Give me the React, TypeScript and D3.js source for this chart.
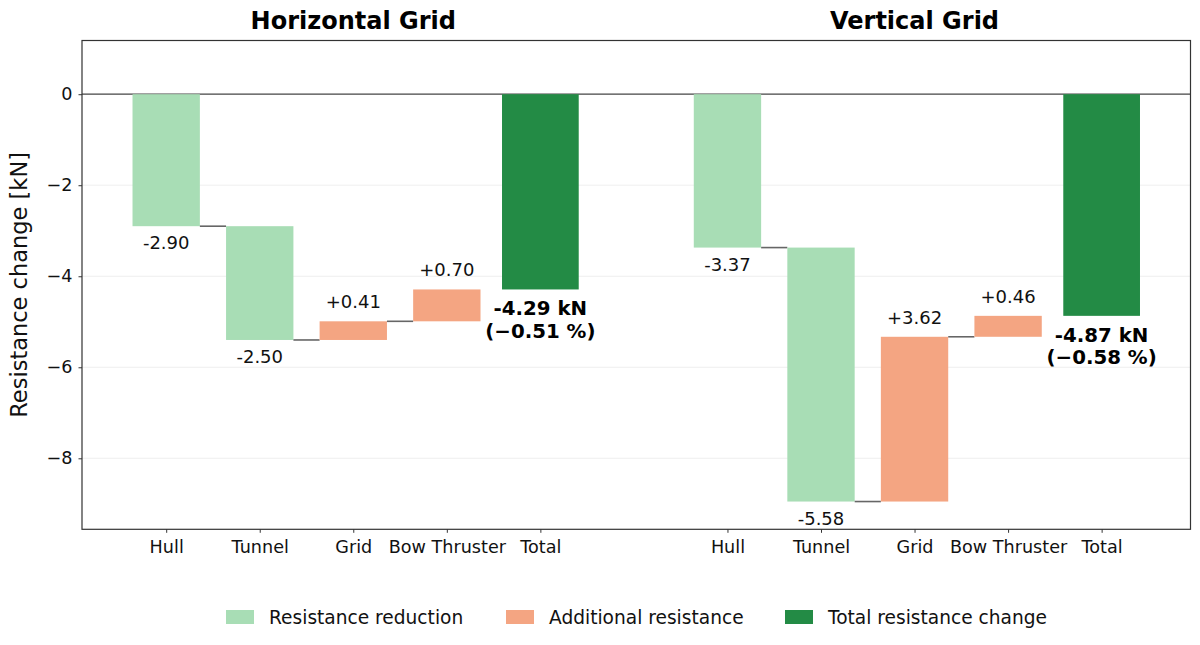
import * as d3 from "d3";
import { useEffect, useRef } from "react";

const categories = ["Hull", "Tunnel", "Grid", "Bow Thruster", "Total"];
const panelTitles = ["Horizontal Grid", "Vertical Grid"];
const horizontalDeltas = [-2.9, -2.5, 0.41, 0.7];
const verticalDeltas = [-3.37, -5.58, 3.62, 0.46];
const totalValues = [-4.29, -4.87];
const totalPercents = [-0.51, -0.58];
const yTicks = [0, -2, -4, -6, -8];
const legendItems = [
  { label: "Resistance reduction", color: "#a8ddb5" },
  { label: "Additional resistance", color: "#f4a582" },
  { label: "Total resistance change", color: "#238b45" },
];

const FONT = "'DejaVu Sans', sans-serif";

export default function App() {
  const svgRef = useRef<SVGSVGElement>(null);
  const width = 1200;
  const height = 645;

  useEffect(() => {
    if (!svgRef.current) return;
    const svg = d3.select(svgRef.current);
    svg.selectAll("*").remove();

    const margin = { top: 40.5, right: 9.5, bottom: 115.7, left: 82 };
    const innerWidth = width - margin.left - margin.right;
    const innerHeight = height - margin.top - margin.bottom;

    const g = svg
      .append("g")
      .attr("transform", `translate(${margin.left},${margin.top})`);

    const x = d3.scaleLinear().domain([-0.9, 10.95]).range([0, innerWidth]);
    const y = d3.scaleLinear().domain([-9.56, 1.18]).range([innerHeight, 0]);
    const step = x(1) - x(0);
    const barW = 0.72 * step;
    const totalW = 0.82 * step;

    // grid lines
    g.append("g")
      .selectAll("line")
      .data(yTicks.filter((t) => t !== 0))
      .enter()
      .append("line")
      .attr("x1", 0)
      .attr("x2", innerWidth)
      .attr("y1", (d) => y(d))
      .attr("y2", (d) => y(d))
      .style("stroke", "#ebebeb")
      .style("stroke-width", 0.8);

    // zero line
    g.append("line")
      .attr("x1", 0)
      .attr("x2", innerWidth)
      .attr("y1", y(0))
      .attr("y2", y(0))
      .style("stroke", "#444")
      .style("stroke-width", 1.3);

    const panels = [horizontalDeltas, verticalDeltas];
    panels.forEach((deltas, p) => {
      const offset = p * 6;
      let cum = 0;
      deltas.forEach((d, i) => {
        const start = cum;
        const end = cum + d;
        cum = end;
        const cx = x(offset + i);
        const top = y(Math.max(start, end));
        const bottom = y(Math.min(start, end));
        g.append("rect")
          .attr("x", cx - barW / 2)
          .attr("y", top)
          .attr("width", barW)
          .attr("height", bottom - top)
          .style("fill", d < 0 ? legendItems[0].color : legendItems[1].color);

        const label = (d < 0 ? "" : "+") + d.toFixed(2);
        g.append("text")
          .attr("x", cx)
          .attr("y", d < 0 ? bottom + 23 : top - 13)
          .attr("text-anchor", "middle")
          .style("font-family", FONT)
          .style("font-size", "18px")
          .style("fill", "#111")
          .text(label);

        // connector to next bar
        if (i < deltas.length - 1) {
          g.append("line")
            .attr("x1", cx + barW / 2)
            .attr("x2", x(offset + i + 1) - barW / 2)
            .attr("y1", y(end))
            .attr("y2", y(end))
            .style("stroke", "#666")
            .style("stroke-width", 1.6);
        }
      });

      // total bar
      const tv = totalValues[p];
      const tx = x(offset + 4);
      g.append("rect")
        .attr("x", tx - totalW / 2)
        .attr("y", y(0))
        .attr("width", totalW)
        .attr("height", y(tv) - y(0))
        .style("fill", legendItems[2].color);

      const tl = g
        .append("text")
        .attr("text-anchor", "middle")
        .style("font-family", FONT)
        .style("font-size", "19.8px")
        .style("font-weight", "bold")
        .style("fill", "#000");
      tl.append("tspan")
        .attr("x", tx)
        .attr("y", y(tv) + 26)
        .text(`${tv.toFixed(2)} kN`);
      tl.append("tspan")
        .attr("x", tx)
        .attr("y", y(tv) + 48.5)
        .text(`(\u2212${Math.abs(totalPercents[p]).toFixed(2)} %)`);

      // panel title
      svg
        .append("text")
        .attr("x", margin.left + x(offset + 2))
        .attr("y", 28.5)
        .attr("text-anchor", "middle")
        .style("font-family", FONT)
        .style("font-size", "24px")
        .style("font-weight", "bold")
        .style("fill", "#000")
        .text(panelTitles[p]);
    });

    // x axis
    const xTicks = [0, 1, 2, 3, 4, 6, 7, 8, 9, 10];
    const xAxis = g
      .append("g")
      .attr("transform", `translate(0,${innerHeight})`)
      .call(
        d3
          .axisBottom(x)
          .tickValues(xTicks)
          .tickSize(3.5)
          .tickPadding(7.5)
          .tickFormat((d) => categories[(d as number) % 6]),
      );
    xAxis.select(".domain").remove();
    xAxis.selectAll(".tick line").style("stroke", "#333");
    xAxis
      .selectAll("text")
      .style("font-family", FONT)
      .style("font-size", "17.6px")
      .style("fill", "#111");

    // y axis
    const yAxis = g
      .append("g")
      .call(
        d3
          .axisLeft(y)
          .tickValues(yTicks)
          .tickSize(3.5)
          .tickPadding(6)
          .tickFormat((d) => ((d as number) === 0 ? "0" : `\u2212${Math.abs(d as number)}`)),
      );
    yAxis.select(".domain").remove();
    yAxis.selectAll(".tick line").style("stroke", "#333");
    yAxis
      .selectAll("text")
      .style("font-family", FONT)
      .style("font-size", "17.6px")
      .style("fill", "#111");

    // frame
    g.append("rect")
      .attr("width", innerWidth)
      .attr("height", innerHeight)
      .style("fill", "none")
      .style("stroke", "#333")
      .style("stroke-width", 1.2);

    // y label
    svg
      .append("text")
      .attr("transform", "rotate(-90)")
      .attr("x", -(margin.top + innerHeight / 2))
      .attr("y", 27)
      .attr("text-anchor", "middle")
      .style("font-family", FONT)
      .style("font-size", "22.5px")
      .style("fill", "#111")
      .text("Resistance change [kN]");

    // legend
    const legendX = [226, 506, 785];
    legendItems.forEach((item, i) => {
      const lg = svg
        .append("g")
        .attr("transform", `translate(${legendX[i]},617)`);
      lg.append("rect")
        .attr("x", 0)
        .attr("y", -7)
        .attr("width", 28)
        .attr("height", 14)
        .style("fill", item.color);
      lg.append("text")
        .attr("x", 43)
        .attr("y", 0)
        .attr("dy", "0.35em")
        .style("font-family", FONT)
        .style("font-size", "18.6px")
        .style("fill", "#111")
        .text(item.label);
    });
  }, []);

  return (
    <svg
      ref={svgRef}
      width={width}
      height={height}
      style={{ position: "absolute", left: 0, top: 0, background: "#fff" }}
    />
  );
}
